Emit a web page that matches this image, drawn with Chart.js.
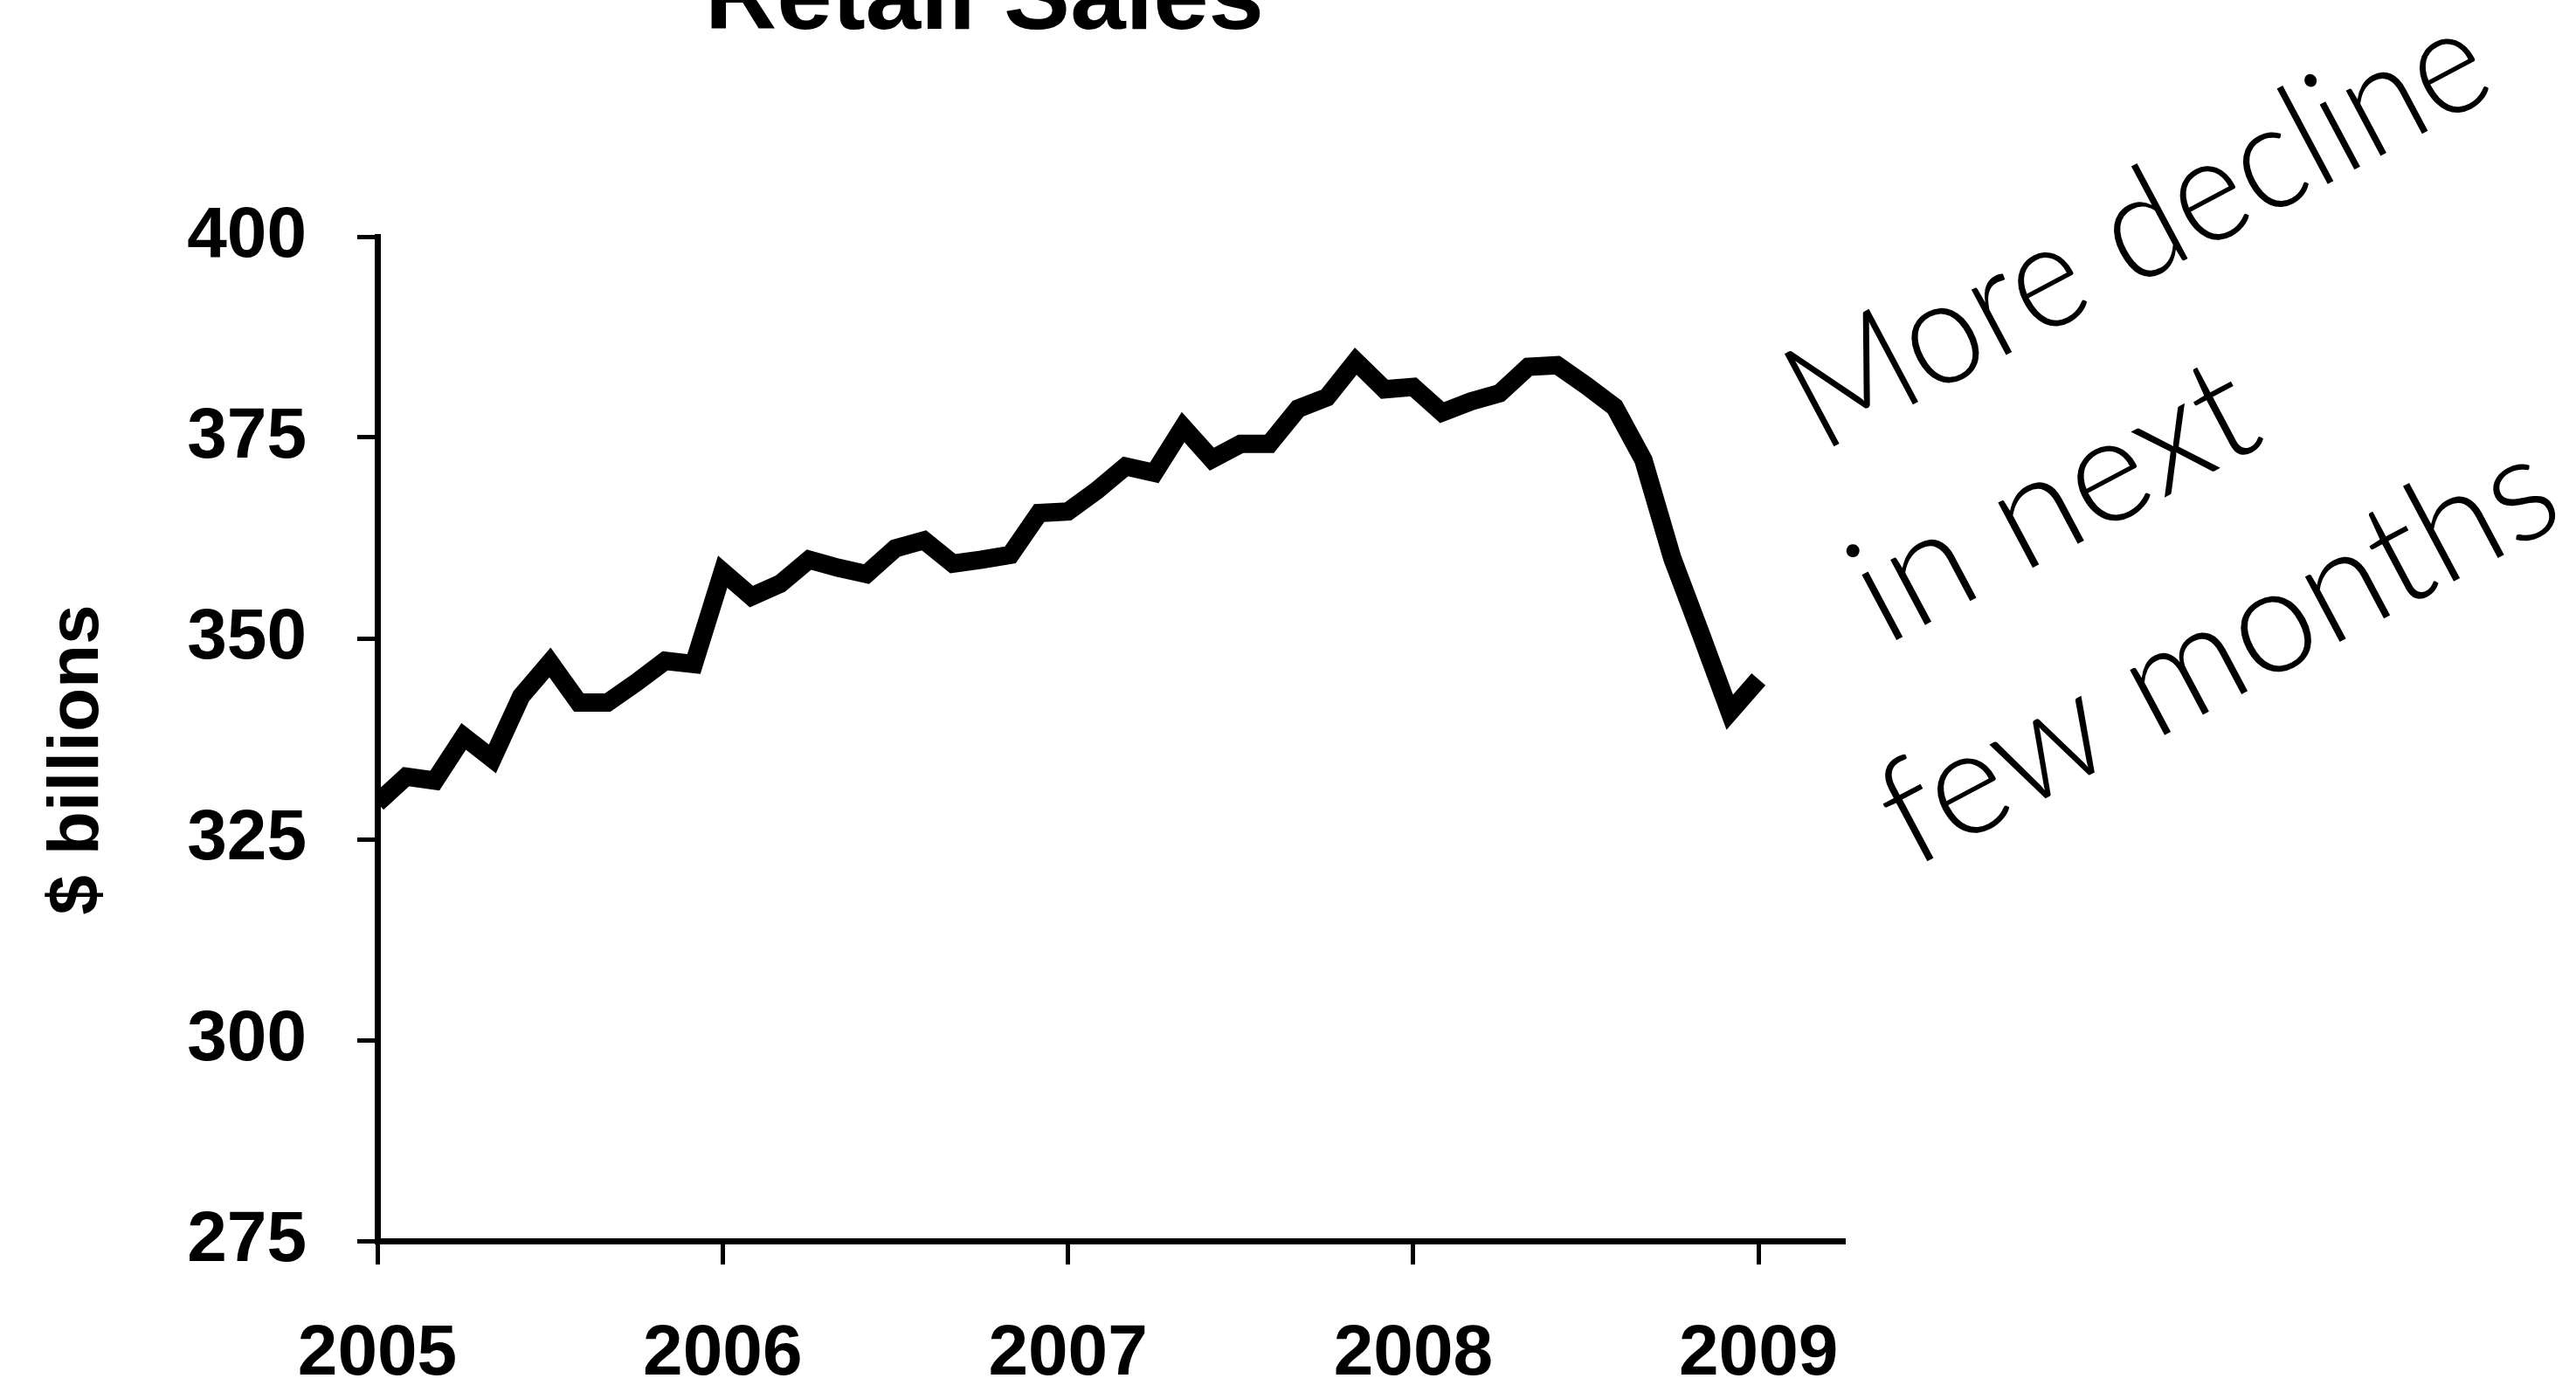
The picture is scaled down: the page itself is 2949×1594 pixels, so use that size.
<!DOCTYPE html>
<html>
<head>
<meta charset="utf-8">
<title>Retail Sales</title>
<script src="https://cdn.jsdelivr.net/npm/chart.js@4.4.1/dist/chart.umd.min.js"></script>
<style>
    html, body { margin: 0; padding: 0; background: #fff; }
    #wrap { width: 2949px; height: 1594px; position: relative; }
</style>
</head>
<body>
<div id="wrap"><canvas id="salesChart"></canvas></div>
<script>
// monthly retail sales, $ billions, Jan 2005 .. Jan 2009
const salesValues = [
    329.5, 332.8, 332.3, 337.8, 335.0, 342.8, 347.0, 342.0, 342.0, 344.5, 347.2, 346.8,
    358.3, 355.2, 356.8, 359.8, 358.8, 358.0, 361.2, 362.2, 359.3, 359.8, 360.4, 365.6,
    365.8, 368.4, 371.4, 370.6, 376.3, 372.3, 374.2, 374.2, 378.6, 380.0, 384.5, 381.0,
    381.3, 378.1, 379.5, 380.5, 383.8, 384.0, 381.5, 378.8, 372.2, 360.0, 350.5, 340.8,
    344.9
];
const yearLabels = ['2005', '2006', '2007', '2008', '2009'];
const yTickValues = [275, 300, 325, 350, 375, 400];
const noteLines = ['More decline', 'in next', 'few months'];

const BLACK = '#000';
const boldFont = '"Liberation Sans", Arial, sans-serif';

const points = salesValues.map((v, i) => ({ x: i, y: v }));
const yearTicks = yearLabels.map((_, i) => i * 12);

// title, axis label and the hand note, drawn straight onto the canvas
const textPlugin = {
    id: 'texts',
    afterDraw(chart) {
        const ctx = chart.ctx;
        ctx.save();
        ctx.fillStyle = BLACK;

        ctx.font = `bold 114px ${boldFont}`;
        ctx.textAlign = 'center';
        ctx.textBaseline = 'alphabetic';
        ctx.fillText('Retail Sales', 1127, 33);

        ctx.save();
        ctx.translate(112, 870);
        ctx.rotate(-Math.PI / 2);
        ctx.font = `bold 82px ${boldFont}`;
        ctx.fillText('$ billions', 0, 0);
        ctx.restore();

        const starts = [[2085, 519], [2158, 740], [2190, 995]];
        const widths = [880, 580, 850];
        ctx.font = '300 170px Lato, "Open Sans", sans-serif';
        ctx.textAlign = 'left';
        noteLines.forEach((line, i) => {
            ctx.save();
            ctx.translate(starts[i][0], starts[i][1]);
            ctx.rotate(-28 * Math.PI / 180);
            ctx.fillText(line, 0, 0, widths[i]);
            ctx.restore();
        });
        ctx.restore();
    }
};

const ctx = document.getElementById('salesChart').getContext('2d');
new Chart(ctx, {
    type: 'line',
    data: {
        datasets: [{
            data: points,
            borderColor: BLACK,
            borderWidth: 21,
            borderJoinStyle: 'miter',
            pointRadius: 0,
            tension: 0,
            fill: false
        }]
    },
    options: {
        responsive: true,
        maintainAspectRatio: false,
        animation: false,
        layout: { padding: { left: 0, top: 271, right: 837, bottom: 0 } },
        plugins: {
            legend: { display: false },
            tooltip: { enabled: false }
        },
        scales: {
            x: {
                type: 'linear',
                min: 0,
                max: 51,
                afterBuildTicks: scale => {
                    scale.ticks = yearTicks.map(v => ({ value: v }));
                },
                afterFit: scale => { scale.height = 173; },
                border: { display: true, color: BLACK, width: 7 },
                grid: {
                    drawOnChartArea: false,
                    drawTicks: true,
                    tickLength: 27,
                    tickWidth: 5,
                    tickColor: BLACK
                },
                ticks: {
                    autoSkip: false,
                    maxRotation: 0,
                    padding: 54,
                    color: BLACK,
                    font: { family: boldFont, size: 82, weight: 'bold' },
                    callback: value => yearLabels[value / 12]
                }
            },
            y: {
                min: 275,
                max: 400,
                afterBuildTicks: scale => {
                    scale.ticks = yTickValues.map(v => ({ value: v }));
                },
                afterFit: scale => { scale.width = 432; },
                border: { display: true, color: BLACK, width: 7 },
                grid: {
                    drawOnChartArea: false,
                    drawTicks: true,
                    tickLength: 23,
                    tickWidth: 5,
                    tickColor: BLACK
                },
                ticks: {
                    padding: 58,
                    color: BLACK,
                    font: { family: boldFont, size: 82, weight: 'bold' }
                }
            }
        }
    },
    plugins: [textPlugin]
});
</script>
</body>
</html>
